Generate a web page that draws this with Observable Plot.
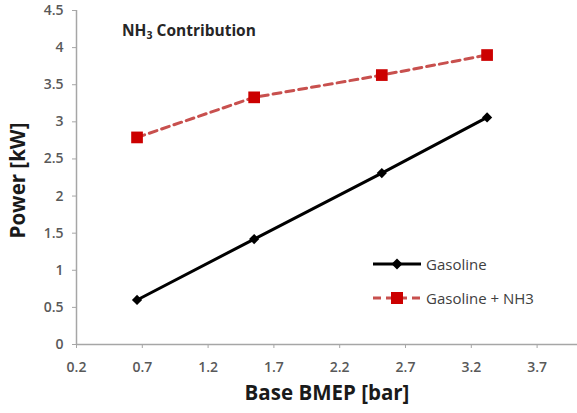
<!DOCTYPE html>
<html>
<head>
<meta charset="utf-8">
<script src="https://cdn.jsdelivr.net/npm/d3@7"></script>
<script src="https://cdn.jsdelivr.net/npm/@observablehq/plot@0.6"></script>
<style>
  html, body { margin: 0; padding: 0; background: #fff; }
  #wrap { position: relative; width: 577px; height: 413px; font-family: "Open Sans", "Liberation Sans", sans-serif; }
  #title { position: absolute; left: 122px; top: 19px; font-size: 15.5px; font-weight: bold; color: #262626; }
  #title sub { font-size: 10.5px; vertical-align: -3px; line-height: 0; }
  #legend { position: absolute; left: 372px; top: 254px; font-size: 15px; color: #404040; }
  #legend .row { display: flex; align-items: center; height: 20px; margin-bottom: 14px; }
  #legend svg { margin-right: 4px; }
</style>
</head>
<body>
<div id="wrap">
  <div id="chart"></div>
  <div id="title">NH<sub>3</sub> Contribution</div>
  <div id="legend"></div>
</div>
<script>
// Base BMEP [bar] operating points
const bmep = [0.66, 1.55, 2.52, 3.32];
// Engine power [kW]
const gasoline = [0.6, 1.42, 2.31, 3.06];
const gasolineNH3 = [2.79, 3.33, 3.63, 3.9];
const seriesNames = ["Gasoline", "Gasoline + NH3"];
// Axis ticks
const xTicks = [0.2, 0.7, 1.2, 1.7, 2.2, 2.7, 3.2, 3.7];
const yTicks = [0, 0.5, 1, 1.5, 2, 2.5, 3, 3.5, 4, 4.5];

const black = "#000000";
const redLine = "#c8504e";
const redMark = "#cc0000";

const rowsGas = bmep.map((x, i) => ({x, y: gasoline[i]}));
const rowsNH3 = bmep.map((x, i) => ({x, y: gasolineNH3[i]}));

const chart = Plot.plot({
  width: 577,
  height: 413,
  marginLeft: 76,
  marginRight: 0,
  marginTop: 10,
  marginBottom: 69,
  style: {fontFamily: "'Open Sans', 'Liberation Sans', sans-serif", fontSize: "14px", background: "#fff"},
  x: {domain: [0.2, 4.007], label: null},
  y: {domain: [0, 4.5], label: null},
  marks: [
    Plot.axisX({ticks: xTicks, tickFormat: d => d.toFixed(1), tickSize: 4, tickPadding: 14, stroke: "#a6a6a6", fill: "#595959", fontSize: 14, fontWeight: 600, label: null}),
    Plot.axisY({ticks: yTicks, tickFormat: d => String(d), tickSize: 4, tickPadding: 9, stroke: "#a6a6a6", fill: "#595959", fontSize: 14, fontWeight: 600, label: null}),
    Plot.ruleY([0], {stroke: "#a6a6a6", strokeWidth: 1.5}),
    Plot.ruleX([0.2], {stroke: "#a6a6a6", strokeWidth: 1.5}),
    Plot.line(rowsNH3, {x: "x", y: "y", stroke: redLine, strokeWidth: 3, strokeDasharray: "8,5"}),
    Plot.dot(rowsNH3, {x: "x", y: "y", symbol: "square", r: 6.6, fill: redMark, stroke: "none"}),
    Plot.line(rowsGas, {x: "x", y: "y", stroke: black, strokeWidth: 3}),
    Plot.dot(rowsGas, {x: "x", y: "y", symbol: "diamond2", r: 4.6, fill: black, stroke: "none"}),
    Plot.text(["Base BMEP [bar]"], {frameAnchor: "bottom", dy: 55, fontSize: 20.5, fontWeight: "bold", fill: "#1a1a1a"}),
    Plot.text(["Power [kW]"], {frameAnchor: "left", textAnchor: "middle", dx: -58, dy: 3, rotate: -90, fontSize: 20.5, fontWeight: "bold", fill: "#1a1a1a"})
  ]
});
document.getElementById("chart").appendChild(chart);

// Legend: line-with-marker swatches
const legend = d3.select("#legend");
const styles = [
  {stroke: black, dash: null, mark: "diamond"},
  {stroke: redLine, dash: "8,5", mark: "square"}
];
seriesNames.forEach((name, i) => {
  const row = legend.append("div").attr("class", "row");
  const s = row.append("svg").attr("width", 50).attr("height", 20);
  const st = styles[i];
  s.append("line").attr("x1", 1).attr("x2", 49).attr("y1", 10).attr("y2", 10)
    .attr("stroke", st.stroke).attr("stroke-width", 3)
    .attr("stroke-dasharray", st.dash);
  if (st.mark === "diamond") {
    s.append("path").attr("d", "M25,4.5L30.5,10L25,15.5L19.5,10Z").attr("fill", black);
  } else {
    s.append("rect").attr("x", 19).attr("y", 4).attr("width", 12).attr("height", 12).attr("fill", redMark);
  }
  row.append("span").text(name);
});
</script>
</body>
</html>
